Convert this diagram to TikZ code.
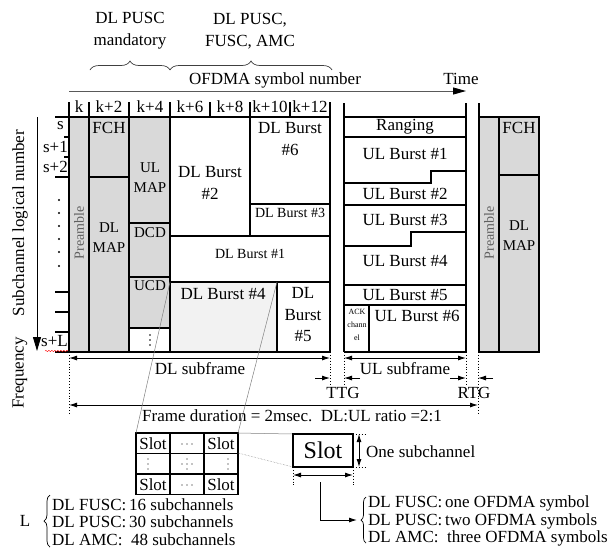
\documentclass[tikz,border=0pt]{standalone}
\usepackage{fontspec}
\setmainfont{Liberation Serif}
\usetikzlibrary{arrows.meta,decorations.pathreplacing,decorations.pathmorphing}
\definecolor{pregray}{RGB}{217,217,217}
\definecolor{burstgray}{RGB}{242,242,242}
\definecolor{pretext}{RGB}{95,95,95}

\begin{document}
\begin{tikzpicture}[x=1pt,y=-1pt,
    box/.style={draw=black, line width=1.3pt},
    grayed/.style={box, fill=pregray},
    lbl/.style={font=\fontsize{17}{22}\selectfont, align=center, inner sep=0pt},
    mid/.style={font=\fontsize{15}{20}\selectfont, align=center, inner sep=0pt},
    sml/.style={font=\fontsize{14}{16}\selectfont, align=center, inner sep=0pt},
    pre/.style={font=\fontsize{14}{16}\selectfont, text=pretext, rotate=90, inner sep=0pt},
    dim/.style={line width=0.9pt, {Latex[length=8pt,width=5pt]}-{Latex[length=8pt,width=5pt]}},
    onearrow/.style={line width=0.9pt, -{Latex[length=8pt,width=5pt]}},
    guide/.style={dotted, line width=0.9pt},
    zoomline/.style={draw=gray, line width=0.5pt},
    curly/.style={decorate, line width=0.7pt}
  ]
    \useasboundingbox (0,0) rectangle (609,550);

    % Headers
    \node[lbl] (mand) at (130,31) {DL PUSC\\mandatory};
    \node[lbl] (opt)  at (250,31) {DL PUSC,\\FUSC, AMC};
    \draw[curly, black!75, decoration={brace, amplitude=9pt}] (90,70) -- (170,70);
    \draw[curly, black!75, decoration={brace, amplitude=9pt}] (170,70) -- (332,70);

    % Time axis
    \coordinate (t0) at (69,91);
    \coordinate (t1) at (466,91);
    \draw[black!65, line width=0.9pt, -{Triangle[length=13pt,width=7pt,color=black]}] (t0) -- (t1);
    \node[lbl] (ofdma) at (275,80) {OFDMA symbol number};
    \node[lbl] (time)  at (461,79) {Time};

    % Symbol ticks
    \foreach \x in {69,89,129,170,210,250,290,330}
      \draw[line width=1.3pt] (\x,102) -- (\x,117);
    \foreach \x/\t [count=\i] in {79/k, 109/k+2, 150/k+4, 190/k+6, 230/k+8, 270/k+10, 310/k+12}
      \node[lbl] (tick\i) at (\x,107) {\t};

    % Subchannel rows
    \draw[line width=1.3pt] (55,117) -- (330,117);
    \draw[line width=1.3pt] (55,352) -- (330,352);
    \foreach \y in {137,157} \draw[line width=1.3pt] (64,\y) -- (69,\y);
    \foreach \y in {177,292,312,332} \draw[line width=1.3pt] (55,\y) -- (69,\y);
    \node[lbl, anchor=east] (rs)  at (64,126) {s};
    \node[lbl, anchor=east] (rs1) at (68,147) {s+1};
    \node[lbl, anchor=east] (rs2) at (68,167) {s+2};
    \node[lbl, anchor=east] (rsl) at (68,341) {s+L};
    \draw[red, line width=0.4pt, decorate, decoration={snake, amplitude=0.7pt, segment length=3pt}] (45,351) -- (68,351);
    \foreach \y in {200,213,226,239,252,266} \fill (59,\y) circle (1.1pt);

    % Frequency axis
    \coordinate (f0) at (37,117);
    \coordinate (f1) at (37,351);
    \draw[line width=0.9pt, -{Triangle[length=14pt,width=8pt]}] (f0) -- (f1);
    \node[lbl, rotate=90] (subch) at (20,223) {Subchannel logical number};
    \node[lbl, rotate=90] (freq)  at (20,373) {Frequency};

    % DL subframe
    \path[grayed] (69,117) rectangle (89,352);
    \path[grayed] (89,117) rectangle (129,177);
    \path[grayed] (89,177) rectangle (129,352);
    \path[grayed] (129,117) rectangle (170,223);
    \path[grayed] (129,223) rectangle (170,277);
    \path[grayed] (129,277) rectangle (170,328);
    \path[box] (129,328) rectangle (170,352);
    \path[box] (170,117) rectangle (250,236);
    \path[box] (250,117) rectangle (330,204);
    \path[box] (250,204) rectangle (330,236);
    \path[box] (170,236) rectangle (330,282);
    \path[box, fill=burstgray] (170,282) rectangle (277,352);
    \path[box] (277,282) rectangle (330,352);

    \node[pre] (pre1) at (79,233) {Preamble};
    \node[lbl] (fch1) at (109,128) {FCH};
    \node[mid] (dlmap1) at (109,238) {DL\\MAP};
    \node[mid] (ulmap) at (150,178) {UL\\MAP};
    \node[mid] (dcd) at (150,233) {DCD};
    \node[mid] (ucd) at (150,286) {UCD};
    \foreach \y in {335,340,345} \fill (150,\y) circle (0.8pt);
    \node[lbl] (dl2) at (210,183) {DL Burst\\\#2};
    \node[lbl] (dl6) at (290,139) {DL Burst\\\#6};
    \node[sml] (dl3) at (290,213) {DL Burst \#3};
    \node[sml] (dl1) at (250,254) {DL Burst \#1};
    \node[lbl] (dl4) at (223,294) {DL Burst \#4};
    \node[lbl, font=\fontsize{17}{21.5}\selectfont] (dl5) at (303,315) {DL\\Burst\\\#5};

    % UL subframe
    \draw[box] (344,103) -- (344,352);
    \draw[box] (466,103) -- (466,352);
    \draw[box] (344,117) -- (466,117);
    \draw[box] (344,137) -- (466,137);
    \draw[box] (344,183) -- (431,183) -- (431,171) -- (466,171);
    \draw[box] (344,205) -- (466,205);
    \draw[box] (344,246) -- (411,246) -- (411,232) -- (466,232);
    \draw[box] (344,285) -- (466,285);
    \draw[box] (344,305) -- (466,305);
    \draw[box] (369,305) -- (369,352);
    \draw[box] (344,352) -- (466,352);

    \node[lbl] (rng) at (405,127) {Ranging};
    \node[lbl] (ul1) at (405,154) {UL Burst \#1};
    \node[lbl] (ul2) at (405,194) {UL Burst \#2};
    \node[lbl] (ul3) at (405,220) {UL Burst \#3};
    \node[lbl] (ul4) at (405,261) {UL Burst \#4};
    \node[lbl] (ul5) at (405,295) {UL Burst \#5};
    \node[lbl] (ul6) at (417,316) {UL Burst \#6};
    \node[align=center, inner sep=0pt, font=\fontsize{8}{13}\selectfont] (ack) at (357,325) {ACK\\chann\\el};

    % Next frame
    \draw[box] (479,103) -- (479,117);
    \path[grayed] (479,117) rectangle (499,352);
    \path[grayed] (499,117) rectangle (539,175);
    \path[grayed] (499,175) rectangle (539,352);
    \node[pre] (pre2) at (489,233) {Preamble};
    \node[lbl] (fch2) at (519,128) {FCH};
    \node[mid] (dlmap2) at (519,236) {DL\\MAP};

    % Durations
    \coordinate (g1) at (69,352);   \coordinate (g1e) at (69,413);
    \coordinate (g2) at (330,352);  \coordinate (g2e) at (330,386);
    \coordinate (g3) at (344,352);  \coordinate (g3e) at (344,386);
    \coordinate (g4) at (466,352);  \coordinate (g4e) at (466,386);
    \coordinate (g5) at (478,352);  \coordinate (g5e) at (478,415);
    \foreach \a in {1,...,5} \draw[guide] (g\a) -- (g\a e);

    \draw[dim] (69,358) -- (330,358);
    \draw[dim] (344,358) -- (466,358);
    \node[lbl] (dlsub) at (200,369) {DL subframe};
    \node[lbl] (ulsub) at (405,369) {UL subframe};
    \draw[onearrow] (315,378) -- (330,378);
    \draw[onearrow] (360,378) -- (344,378);
    \draw[onearrow] (450,378) -- (466,378);
    \draw[onearrow] (493,378) -- (478,378);
    \node[lbl] (ttg) at (343,393) {TTG};
    \node[lbl] (rtg) at (474,393) {RTG};
    \draw[dim] (69,405) -- (478,405);
    \node[lbl] (frame) at (292,416) {Frame duration = 2msec.\ \ DL:UL ratio =2:1};

    % Slot grid
    \foreach \r in {0,1,2}
      \foreach \c in {0,1,2}
        \draw[line width=1.3pt] (136+34*\c,433+20.5*\r) rectangle ++(34,20.5);
    \node[lbl] (s11) at (153,444) {Slot};
    \node[lbl] (s13) at (221,444) {Slot};
    \node[lbl] (s31) at (153,485) {Slot};
    \node[lbl] (s33) at (221,485) {Slot};
    \foreach \x in {182,187,192} {
      \fill (\x,444) circle (0.7pt);
      \fill (\x,485) circle (0.7pt);
    }
    \foreach \y in {459,464,469} {
      \fill (148,\y) circle (0.7pt);
      \fill (187,\y) circle (0.7pt);
      \fill (228,\y) circle (0.7pt);
    }
    \fill (182,464) circle (0.7pt);
    \fill (192,464) circle (0.7pt);

    % Zoom lines
    \coordinate (b4a) at (170,282);  \coordinate (b4b) at (277,282);
    \coordinate (ga) at (136,433);   \coordinate (gb) at (238,433);
    \coordinate (gc) at (238,453);
    \coordinate (sa) at (293,434);   \coordinate (sb) at (293,467);
    \draw[zoomline] (b4a) -- (ga);
    \draw[zoomline] (b4b) -- (gb);
    \draw[zoomline] (gb) -- (sa);
    \draw[zoomline, densely dotted] (gc) -- (sb);

    % One slot
    \draw[line width=1.3pt] (293,434) rectangle (353,467);
    \node[font=\fontsize{24}{26}\selectfont, inner sep=0pt] (slot) at (323,450) {Slot};
    \draw[guide] (353,434) -- (365,434);
    \draw[guide] (353,467) -- (365,467);
    \draw[dim] (359,434) -- (359,467);
    \node[lbl, anchor=west] (onesub) at (366,452) {One subchannel};
    \draw[guide] (293,467) -- (293,485);
    \draw[guide] (353,467) -- (353,485);
    \draw[dim] (293,475) -- (353,475);
    \coordinate (el0) at (320,482);
    \coordinate (el1) at (357,520);
    \draw[onearrow] (el0) |- (el1);

    % Legends
    \draw[curly, decoration={brace, amplitude=5pt}] (366,543) -- (366,497);
    \node[lbl, anchor=west, align=left, font=\fontsize{17}{17.5}\selectfont] (symlist) at (368,521)
      {DL FUSC:\,one OFDMA symbol\\DL PUSC:\,two OFDMA symbols\\DL AMC:\ \ three OFDMA symbols};
    \node[lbl] (ell) at (25,521) {L};
    \draw[curly, decoration={brace, amplitude=6pt}] (50,547) -- (50,495);
    \node[lbl, anchor=west, align=left, font=\fontsize{17}{17.5}\selectfont] (sublist) at (52,522)
      {DL FUSC:\,16 subchannels\\DL PUSC:\,30 subchannels\\DL AMC:\ \ 48 subchannels};
  \end{tikzpicture}
\end{document}
